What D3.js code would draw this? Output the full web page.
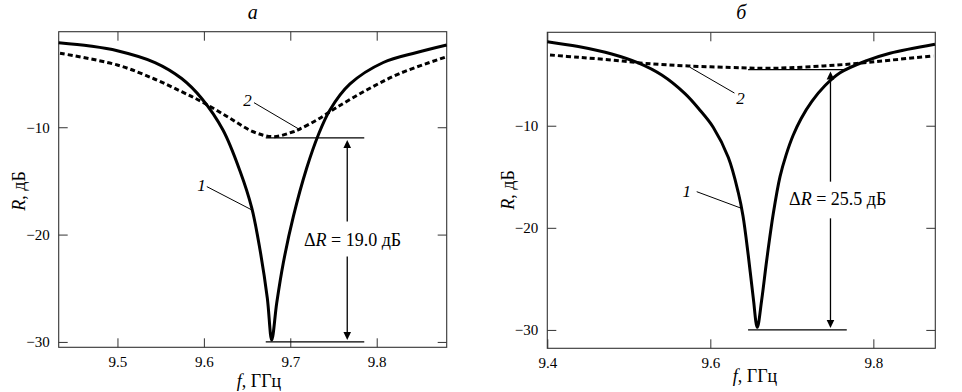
<!DOCTYPE html>
<html><head><meta charset="utf-8">
<script src="https://cdn.jsdelivr.net/npm/d3@7"></script>
<style>body{margin:0;background:#fff}svg{display:block}</style>
</head><body><svg id="c" width="962" height="392"></svg>
<script>
// ---------- data ----------
const panelTitles = ["а", "б"];
const xTicksA = [9.5, 9.6, 9.7, 9.8];
const xTicksB = [9.4, 9.6, 9.8];
const yTicks = [-10, -20, -30];

// panel а, curve 1 (solid)
const fA1 = [9.432, 9.4682, 9.4998, 9.5434, 9.5743, 9.5975, 9.6221, 9.6418, 9.6554, 9.665, 9.6734, 9.6785, 9.6843, 9.6919, 9.7035, 9.719, 9.7324, 9.7459, 9.7691, 9.8076, 9.8463, 9.881];
const rA1 = [-2.12, -2.43, -2.87, -3.97, -5.46, -7.32, -10.26, -14.08, -17.52, -21.44, -25.91, -29.82, -26.37, -22.65, -18.33, -13.8, -10.72, -8.39, -5.97, -3.97, -3.04, -2.34];
// panel а, curve 2 (dashed)
const fA2 = [9.4335, 9.4998, 9.5434, 9.5743, 9.5975, 9.6283, 9.6572, 9.6803, 9.7035, 9.7112, 9.7306, 9.7537, 9.7884, 9.827, 9.881];
const rA2 = [-3.11, -4.2, -5.53, -6.69, -7.62, -9.07, -10.42, -10.88, -10.42, -10.16, -9.33, -8.16, -6.53, -4.98, -3.43];
// panel б, curve 1 (solid)
const fB1 = [9.4, 9.438, 9.479, 9.5116, 9.5404, 9.5689, 9.5873, 9.6037, 9.6221, 9.6343, 9.6401, 9.6466, 9.6527, 9.6576, 9.663, 9.6692, 9.6773, 9.6855, 9.6929, 9.7015, 9.7113, 9.7248, 9.7408, 9.7592, 9.7918, 9.8204, 9.8756];
const rB1 = [-1.77, -2.25, -2.97, -3.85, -5.04, -6.86, -8.48, -10.17, -13.11, -16.54, -18.84, -22.73, -26.89, -29.75, -27.07, -23.15, -18.58, -14.99, -12.88, -10.96, -9.31, -7.59, -6.06, -4.81, -3.63, -2.9, -2.02];
// panel б, curve 2 (dashed)
const fB2 = [9.4033, 9.438, 9.479, 9.5199, 9.573, 9.6385, 9.667, 9.6978, 9.7386, 9.7796, 9.8204, 9.8736];
const rB2 = [-3.07, -3.3, -3.56, -3.89, -4.15, -4.32, -4.38, -4.32, -4.15, -3.9, -3.58, -3.17];

// ΔR annotations: levels [top, bottom] and value
const deltaLevelsA = [-11.0, -30.0];
const deltaLevelsB = [-4.5, -30.0];
const deltaValues = [19.0, 25.5];

// ---------- drawing ----------
const FONT = "'Liberation Serif', 'Tinos', 'DejaVu Serif', 'Times New Roman', serif";
const svg = d3.select("#c");
svg.append("rect").attr("width", 962).attr("height", 392).attr("fill", "#fff");
const fmtY = d3.format("d");
const fmtX = d3.format(".1f");
const zip = (a, b) => a.map((v, i) => [v, b[i]]);

function txt(sel) {
  return sel.append("text").attr("font-family", FONT).style("font-family", FONT).attr("fill", "#000");
}

function drawPanel(p) {
  const x = d3.scaleLinear().domain(p.xDomain).range([p.left, p.right]);
  const y = d3.scaleLinear().domain(p.yDomain).range([p.bottom, p.top]);
  const g = svg.append("g");

  const ax = (gen, tr, labels) => {
    const a = g.append("g").attr("transform", tr).call(gen);
    a.attr("font-family", FONT);
    a.select(".domain").remove();
    a.selectAll(".tick line").attr("stroke", "#333").attr("stroke-width", 1);
    a.selectAll("text").style("font-size", "15px").style("font-family", FONT).attr("fill", "#000");
    if (!labels) a.selectAll("text").remove();
    return a;
  };
  ax(d3.axisBottom(x).tickValues(p.xTicks).tickFormat(fmtX).tickSize(-9).tickPadding(9), `translate(0,${p.bottom})`, true);
  ax(d3.axisTop(x).tickValues(p.xTicks).tickSize(-9), `translate(0,${p.top})`, false);
  ax(d3.axisLeft(y).tickValues(yTicks).tickFormat(fmtY).tickSize(-9).tickPadding(9), `translate(${p.left},0)`, true);
  ax(d3.axisRight(y).tickValues(yTicks).tickSize(-9), `translate(${p.right},0)`, false);

  g.append("rect").attr("x", p.left).attr("y", p.top)
    .attr("width", p.right - p.left).attr("height", p.bottom - p.top)
    .attr("fill", "none").attr("stroke", "#333").attr("stroke-width", 1.1);

  const line = d3.line().x(d => x(d[0])).y(d => y(d[1])).curve(d3.curveCatmullRom.alpha(0.5));
  g.append("path").datum(zip(p.f2, p.r2)).attr("d", line)
    .attr("fill", "none").attr("stroke", "#000").attr("stroke-width", 3)
    .attr("stroke-dasharray", "5,3");
  g.append("path").datum(zip(p.f1, p.r1)).attr("d", line)
    .attr("fill", "none").attr("stroke", "#000").attr("stroke-width", 3)
    .attr("stroke-linejoin", "round");

  // ΔR lines
  const [lt, lb] = p.levels;
  [lt, lb].forEach(v => g.append("line")
    .attr("x1", x(p.span[0])).attr("x2", x(p.span[1]))
    .attr("y1", y(v)).attr("y2", y(v)).attr("stroke", "#000").attr("stroke-width", 1.2));
  const xa = x(p.arrowF), yt = y(lt) + 2, yb = y(lb) - 2;
  g.append("line").attr("x1", xa).attr("x2", xa).attr("y1", yt + 6).attr("y2", y(p.gap[0]))
    .attr("stroke", "#000").attr("stroke-width", 1.3);
  g.append("line").attr("x1", xa).attr("x2", xa).attr("y1", y(p.gap[1])).attr("y2", yb - 6)
    .attr("stroke", "#000").attr("stroke-width", 1.3);
  g.append("path").attr("d", `M${xa},${yt}L${xa - 3.8},${yt + 8}L${xa + 3.8},${yt + 8}Z`).attr("fill", "#000");
  g.append("path").attr("d", `M${xa},${yb}L${xa - 3.8},${yb - 8}L${xa + 3.8},${yb - 8}Z`).attr("fill", "#000");
  const t = txt(g).attr("x", x(p.labelPos[0])).attr("y", y(p.labelPos[1])).style("font-size", "18px");
  t.append("tspan").text("Δ");
  t.append("tspan").attr("font-style", "italic").text("R");
  t.append("tspan").text(" = " + p.delta.toFixed(1) + " дБ");

  // curve labels with leaders
  p.leaders.forEach(l => {
    g.append("line").attr("x1", x(l.a[0])).attr("y1", y(l.a[1])).attr("x2", x(l.b[0])).attr("y2", y(l.b[1]))
      .attr("stroke", "#000").attr("stroke-width", 1);
    txt(g).attr("x", x(l.t[0])).attr("y", y(l.t[1])).attr("text-anchor", "middle")
      .style("font-size", "17px").attr("font-style", "italic").text(l.label);
  });

  // titles
  txt(g).attr("x", (p.left + p.right) / 2).attr("y", 19).attr("text-anchor", "middle")
    .style("font-size", "20px").attr("font-style", "italic").text(p.title);
  const xt = txt(g).attr("x", p.xTitle[0]).attr("y", p.xTitle[1]).attr("text-anchor", "middle").style("font-size", "18px");
  xt.append("tspan").attr("font-style", "italic").text("f");
  xt.append("tspan").text(", ГГц");
  const yt2 = txt(g).attr("transform", `translate(${p.yTitle[0]},${p.yTitle[1]}) rotate(-90)`)
    .attr("text-anchor", "middle").style("font-size", "18px");
  yt2.append("tspan").attr("font-style", "italic").text("R");
  yt2.append("tspan").text(", дБ");
}

drawPanel({
  title: panelTitles[0], left: 58.7, right: 446.7, top: 31.7, bottom: 347.3,
  xDomain: [9.432, 9.881], yDomain: [-30.5, -1.1], xTicks: xTicksA,
  f1: fA1, r1: rA1, f2: fA2, r2: rA2,
  levels: deltaLevelsA, span: [9.6716, 9.7856], arrowF: 9.7659, gap: [-18.78, -22.04],
  delta: deltaValues[0], labelPos: [9.7158, -21.09],
  leaders: [
    {label: "1", t: [9.5973, -15.9], a: [9.6034, -15.53], b: [9.6554, -17.7]},
    {label: "2", t: [9.6505, -8.02], a: [9.658, -7.71], b: [9.7116, -10.25]}
  ],
  xTitle: [259, 386.5], yTitle: [25, 191]
});
drawPanel({
  title: panelTitles[1], left: 547.3, right: 935.3, top: 32.3, bottom: 348.3,
  xDomain: [9.4, 9.876], yDomain: [-31.8, -0.85], xTicks: xTicksB,
  f1: fB1, r1: rB1, f2: fB2, r2: rB2,
  levels: deltaLevelsB, span: [9.6463, 9.7674], arrowF: 9.7474, gap: [-15.48, -19.07],
  delta: deltaValues[1], labelPos: [9.6966, -17.76],
  leaders: [
    {label: "1", t: [9.5711, -16.95], a: [9.5833, -16.46], b: [9.6382, -18.09]},
    {label: "2", t: [9.637, -7.9], a: [9.5751, -4.28], b: [9.6296, -6.8]}
  ],
  xTitle: [755, 382], yTitle: [514, 190]
});
</script>
</body></html>
